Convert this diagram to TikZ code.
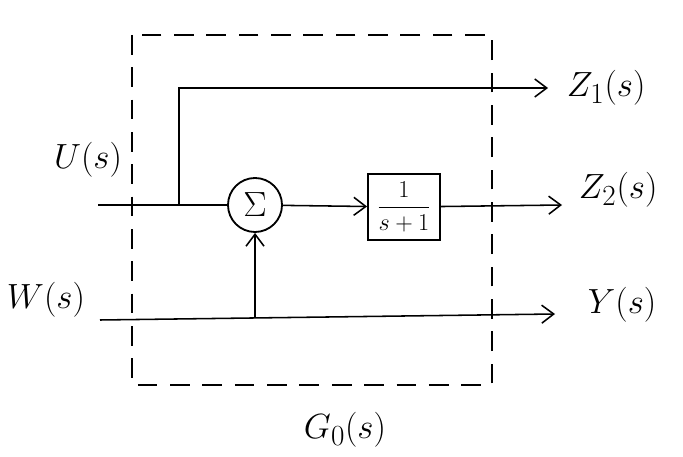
\documentclass[tikz,border=0pt]{standalone}
\usepackage{amsmath}
\usepackage{tikz}
\usetikzlibrary{arrows.meta,positioning,calc}

\begin{document}
\begin{tikzpicture}[x=0.025cm, y=-0.025cm,
        sig/.style={font=\fontsize{28}{30}\selectfont},
        sumnode/.style={circle, draw, line width=1.3pt, minimum size=1.35cm, inner sep=0pt, font=\fontsize{24}{26}\selectfont},
        blocknode/.style={rectangle, draw, line width=1.3pt, minimum width=1.8cm, minimum height=1.65cm, inner sep=1pt, font=\fontsize{19}{21}\selectfont},
        wire/.style={line width=1.1pt},
        frame/.style={line width=1.1pt, dash pattern=on 14pt off 9pt},
        >={Straight Barb[length=3mm, width=4.5mm]}
      ]
        \useasboundingbox (0,0) rectangle (683,457);

        % subsystem boundary
        \draw[frame] (132,35) rectangle (492,385);

        \node[sumnode] (sum) at (255,205) {$\Sigma$};
        \node[blocknode] (blk) at (404,207) {$\dfrac{1}{s+1}$};

        \node[sig] (u) at (88,160) {$U(s)$};
        \node[sig] (w) at (46,300) {$W(s)$};
        \node[sig, anchor=west] (z1) at (562,88) {$Z_1(s)$};
        \node[sig, anchor=west] (z2) at (574,190) {$Z_2(s)$};
        \node[sig, anchor=west] (y) at (583,305) {$Y(s)$};
        \node[sig] (g0) at (345,430) {$G_0(s)$};

        \coordinate (uin) at (98,205);
        \coordinate (split) at (179,205);
        \coordinate (z1end) at (548,88);
        \coordinate (z2end) at (562,205);
        \coordinate (win) at (100,320);
        \coordinate (tap) at (255,318);
        \coordinate (yend) at (555,314);

        \draw[wire] (uin) -- (sum);
        \draw[wire, ->] (split) |- (z1end);
        \draw[wire, ->] (sum) -- (blk);
        \draw[wire, ->] (blk) -- (z2end);
        \draw[wire, ->] (win) -- (yend);
        \draw[wire, ->] (tap) -- (sum);
      \end{tikzpicture}
\end{document}
